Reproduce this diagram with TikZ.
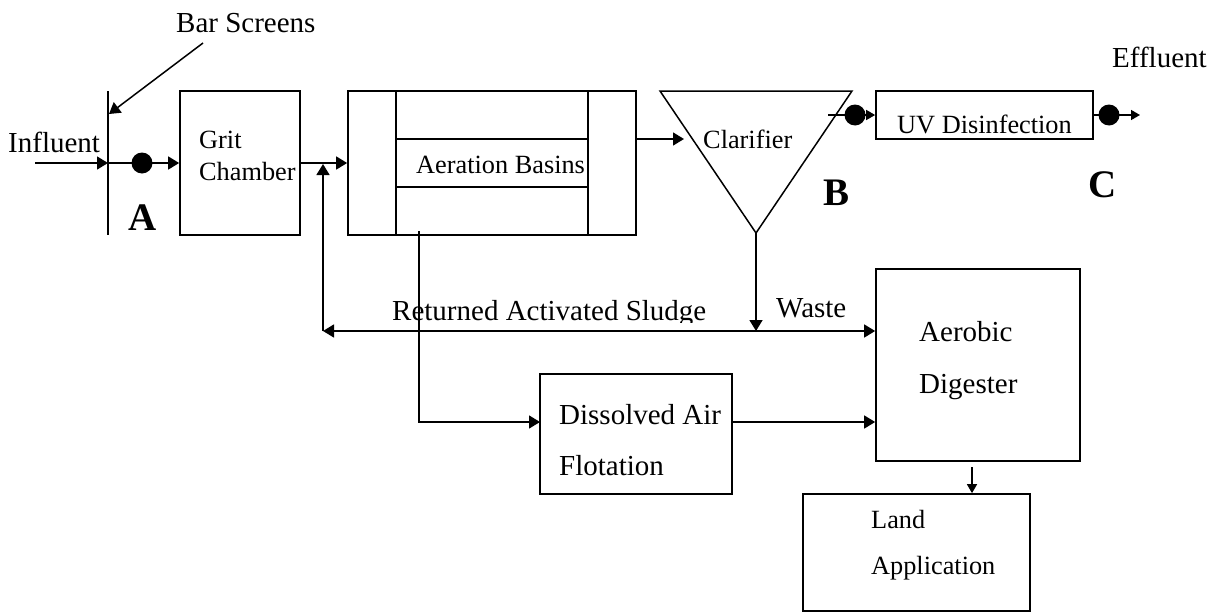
\documentclass[tikz,border=0pt]{standalone}
\usepackage{fontspec}
\setmainfont{Liberation Serif}
\usetikzlibrary{arrows.meta}
\begin{document}
\begin{tikzpicture}[x=1pt,y=-1pt,
  box/.style={draw, line width=1.7pt, inner sep=0pt, rectangle},
  conn/.style={line width=1.5pt},
  arr/.style={conn, -{Triangle[length=11pt,width=13pt]}},
  sarr/.style={conn, -{Triangle[length=9pt,width=10pt]}},
  lab/.style={anchor=base west, inner sep=0pt, font=\fontsize{29}{34}\selectfont},
  slab/.style={anchor=base west, inner sep=0pt, font=\fontsize{26.3}{30}\selectfont},
  big/.style={anchor=base west, inner sep=0pt, font=\fontsize{39}{44}\selectfont\bfseries},
  dot/.style={circle, fill, inner sep=0pt, minimum size=21pt}]
\useasboundingbox (0,0) rectangle (1215,613);

% boxes
\node[box, minimum width=120pt, minimum height=144pt] (grit) at (240,163) {};
\node[box, minimum width=288pt, minimum height=144pt] (aer) at (492,163) {};
\node[box, minimum width=217pt, minimum height=48pt] (uv) at (984.5,115) {};
\node[box, minimum width=192pt, minimum height=120pt] (daf) at (636,434) {};
\node[box, minimum width=204pt, minimum height=192pt] (dig) at (978,365) {};
\node[box, minimum width=227pt, minimum height=117pt] (land) at (916.5,552.5) {};

% aeration basin inner lines
\coordinate (a1t) at (396,91); \coordinate (a1b) at (396,235);
\coordinate (a2t) at (588,91); \coordinate (a2b) at (588,235);
\coordinate (h1) at (396,139); \coordinate (h2) at (396,187);
\draw[line width=1.7pt] (a1t) -- (a1b) (a2t) -- (a2b)
  (h1) -- (h1 -| a2t) (h2) -- (h2 -| a2t);

% clarifier
\coordinate (clTL) at (660,91);
\coordinate (clTR) at (852,91);
\coordinate (apex) at (756,233);
\draw[line width=1.5pt] (clTL) -- (clTR) -- (apex) -- cycle;

% bar screen
\coordinate (barT) at (108,91);
\coordinate (barB) at (108,235);
\coordinate (barM) at (108,163);
\draw[line width=1.7pt] (barT) -- (barB);

% texts
\node[lab] (tbar) at (176,32) {Bar Screens};
\node[lab] (tinf) at (8,152) {Influent};
\node[big] (tA) at (128,230) {A};
\node[slab] (tgrit1) at (199,148) {Grit};
\node[slab] (tgrit2) at (199,180) {Chamber};
\node[slab] (taer) at (416,173) {Aeration Basins};
\node[slab] (tcl) at (703,148) {Clarifier};
\node[big] (tB) at (823,205) {B};
\node[slab] (tuv) at (897,133) {UV Disinfection};
\node[big] (tC) at (1088,197) {C};
\node[lab] (teff) at (1112,67) {Effluent};
\begin{scope}
  \clip (380,280) rectangle (730,322);
  \node[lab] (tret) at (392,320) {Returned Activated Sludge};
\end{scope}
\node[lab] (twaste) at (776,317) {Waste};
\node[lab] (tdaf1) at (559,424) {Dissolved Air};
\node[lab] (tdaf2) at (559,475) {Flotation};
\node[lab] (tdig1) at (919,341) {Aerobic};
\node[lab] (tdig2) at (919,393) {Digester};
\node[slab] (tland1) at (871,528) {Land};
\node[slab] (tland2) at (871,574) {Application};

% connectors
\coordinate (inS) at (35,163);
\draw[arr] (inS) -- (barM);
\draw[arr] (barM) -- (grit.west);
\node[dot] (dA) at (142,163) {};

\coordinate (bsS) at (203,43);
\coordinate (bsE) at (109,114);
\draw[arr] (bsS) -- (bsE);

\draw[arr] (grit.east) -- (aer.west);

\coordinate (ret) at (323,331);
\coordinate (retUp) at (323,164);
\draw[arr] (ret) -- (retUp);
\draw[conn, {Triangle[length=11pt,width=13pt]}-{Triangle[length=11pt,width=13pt]}] (ret) -- (ret -| dig.west);
\draw[arr] (apex) -- (apex |- ret);

\coordinate (aerOut) at (636,139);
\coordinate (clIn) at (684,139);
\draw[arr] (aerOut) -- (clIn);

\coordinate (uvS) at (828,115);
\draw[sarr] (uvS) -- (uv.west);
\node[dot] (dB) at (855,115) {};

\coordinate (effl) at (1140,115);
\draw[sarr] (uv.east) -- (effl);
\node[dot] (dC) at (1109,115) {};

\coordinate (aerDn) at (419,231);
\coordinate (dafIn) at (540,422);
\draw[arr] (aerDn) |- (dafIn);
\draw[arr] (dafIn -| daf.east) -- (dafIn -| dig.west);

\coordinate (digOut) at (972,467);
\draw[sarr] (digOut) -- (digOut |- land.north);
\end{tikzpicture}
\end{document}
